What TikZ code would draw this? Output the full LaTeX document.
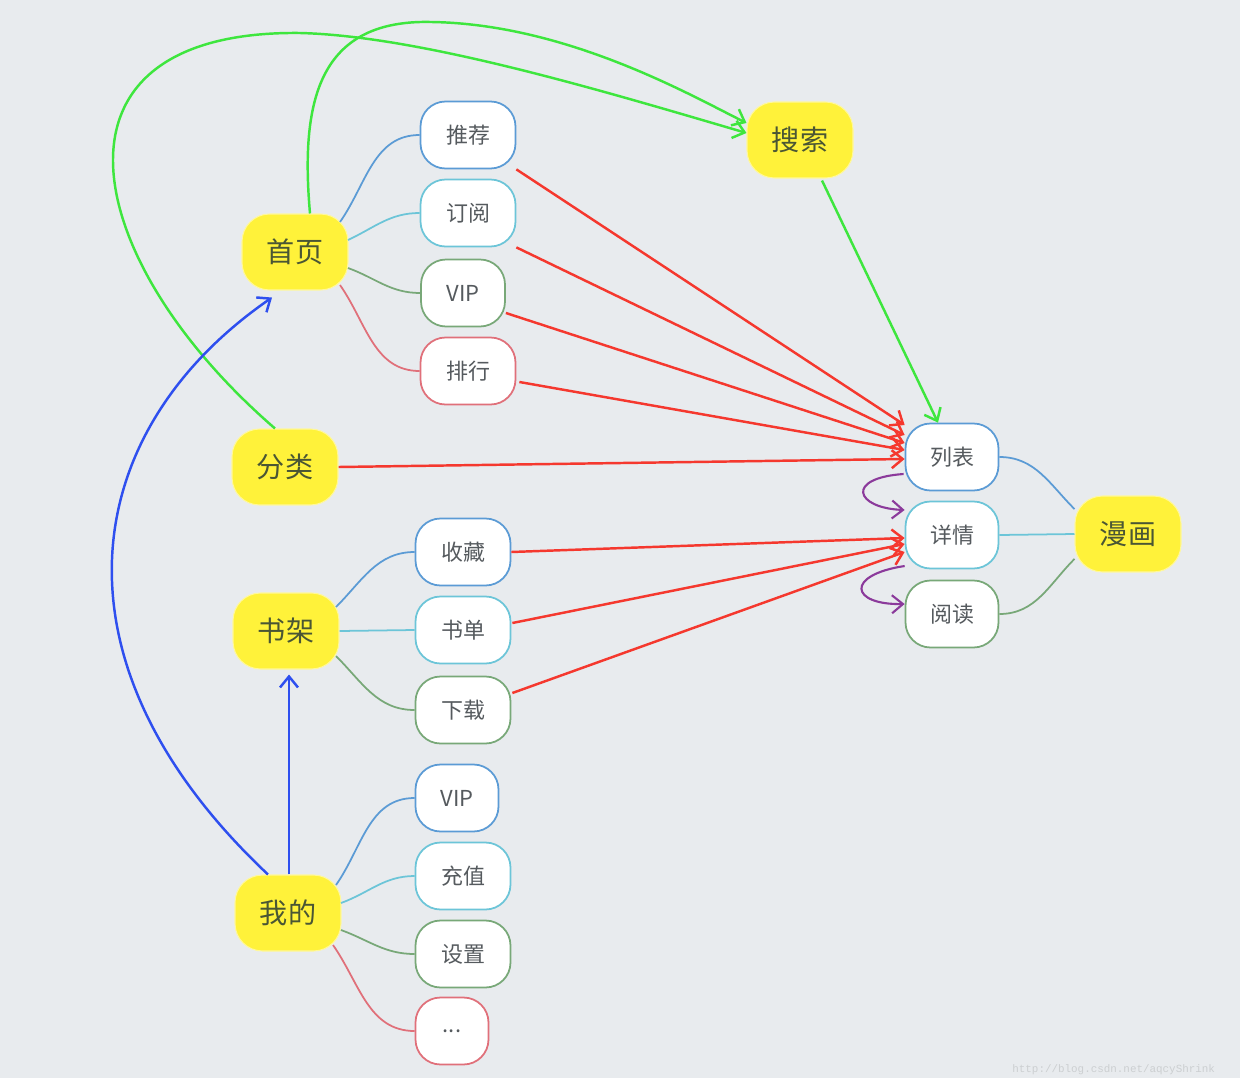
\documentclass[tikz,border=0pt]{standalone}
\usepackage{fontspec}
\setmainfont{Noto Sans CJK SC}
\newfontfamily\markfont{Liberation Mono}
\usetikzlibrary{positioning, calc}
\usetikzlibrary{arrows.meta}

\definecolor{bg}{HTML}{E8EBEE}
\definecolor{topicyellow}{HTML}{FFF23A}
\definecolor{topictext}{HTML}{4A5634}
\definecolor{itemtext}{HTML}{555A5E}
\definecolor{lblue}{HTML}{5B9BD5}
\definecolor{lcyan}{HTML}{6CC5D8}
\definecolor{lgreen}{HTML}{78A878}
\definecolor{lred}{HTML}{E0707A}
\definecolor{arrred}{HTML}{F5382E}
\definecolor{arrgreen}{HTML}{3EE63E}
\definecolor{arrblue}{HTML}{2E4FEF}
\definecolor{arrpurple}{HTML}{8B3A9B}

\begin{document}
\begin{tikzpicture}[x=0.02cm, y=-0.02cm,
    topic/.style={rectangle, rounded corners=0.55cm,
                  fill=topicyellow, draw=topicyellow!50!white, line width=0.6pt,
                  text=topictext, minimum width=2.12cm, minimum height=1.52cm,
                  font=\fontsize{16}{16}\selectfont},
    item/.style={rectangle, rounded corners=0.5cm,
                 fill=white, line width=1pt, text=itemtext,
                 minimum width=1.9cm, minimum height=1.34cm,
                 font=\fontsize{12.5}{13}\selectfont},
    branch/.style={line width=1pt},
    jump/.style={line width=1.4pt, -{Straight Barb[length=2.2mm, width=3.6mm]}}]

    \fill[bg] (0,0) rectangle (1240,1078);
    \useasboundingbox (0,0) rectangle (1240,1078);

    % main topics
    \node[topic] (home)   at (295,252)  {首页};
    \node[topic] (cat)    at (285,467)  {分类};
    \node[topic] (shelf)  at (286,631)  {书架};
    \node[topic] (me)     at (288,913)  {我的};
    \node[topic] (search) at (800,140)  {搜索};
    \node[topic] (manga)  at (1128,534) {漫画};

    % home items
    \node[item, draw=lblue]  (rec)  at (468,135) {推荐};
    \node[item, draw=lcyan]  (sub)  at (468,213) {订阅};
    \node[item, draw=lgreen, minimum width=1.68cm] (vip) at (463,293) {VIP};
    \node[item, draw=lred]   (rank) at (468,371) {排行};

    % shelf items
    \node[item, draw=lblue]  (fav)   at (463,552) {收藏};
    \node[item, draw=lcyan]  (blist) at (463,630) {书单};
    \node[item, draw=lgreen] (down)  at (463,710) {下载};

    % my items
    \node[item, draw=lblue, minimum width=1.66cm] (myvip) at (457,798) {VIP};
    \node[item, draw=lcyan]  (pay)  at (463,876) {充值};
    \node[item, draw=lgreen] (set)  at (463,954) {设置};
    \node[item, draw=lred, minimum width=1.46cm] (more) at (452,1031) {...};

    % manga items
    \node[item, draw=lblue, minimum width=1.86cm]  (list) at (952,457) {列表};
    \node[item, draw=lcyan, minimum width=1.86cm]  (info) at (952,535) {详情};
    \node[item, draw=lgreen, minimum width=1.86cm] (read) at (952,614) {阅读};

    % branches
    \draw[branch, lblue]  ($(home)+(45,-30)$) to[out=55, in=180]  (rec.west);
    \draw[branch, lcyan]  ($(home)+(53,-12)$) to[out=25, in=180]  (sub.west);
    \draw[branch, lgreen] ($(home)+(53,16)$)  to[out=-20, in=180] (vip.west);
    \draw[branch, lred]   ($(home)+(45,33)$)  to[out=-55, in=180] (rank.west);

    \draw[branch, lblue]  ($(shelf)+(50,-24)$) to[out=45, in=180]  (fav.west);
    \draw[branch, lcyan]  (shelf.east) -- (blist.west);
    \draw[branch, lgreen] ($(shelf)+(50,25)$)  to[out=-45, in=180] (down.west);

    \draw[branch, lblue]  ($(me)+(48,-28)$) to[out=55, in=180]  (myvip.west);
    \draw[branch, lcyan]  ($(me)+(53,-10)$) to[out=20, in=180]  (pay.west);
    \draw[branch, lgreen] ($(me)+(53,17)$)  to[out=-20, in=180] (set.west);
    \draw[branch, lred]   ($(me)+(45,32)$)  to[out=-55, in=180] (more.west);

    \draw[branch, lblue]  (list.east) to[out=0, in=135]  (manga.155);
    \draw[branch, lcyan]  (info.east) -- (manga.west);
    \draw[branch, lgreen] (read.east) to[out=0, in=-135] (manga.205);

    % jumps to list / info
    \draw[jump, arrred] (rec.south east)        -- ($(list.west)+(0,-32)$);
    \draw[jump, arrred] (sub.south east)        -- ($(list.west)+(0,-22)$);
    \draw[jump, arrred] (vip.-25)               -- ($(list.west)+(0,-14)$);
    \draw[jump, arrred] ($(rank.east)+(3,11)$)  -- ($(list.west)+(0,-7)$);
    \draw[jump, arrred] (cat.east)              -- ($(list.west)+(0,2)$);
    \draw[jump, arrred] (fav.east)              -- ($(info.west)+(0,3)$);
    \draw[jump, arrred] ($(blist.east)+(1,-7)$) -- ($(info.west)+(0,9)$);
    \draw[jump, arrred] ($(down.east)+(1,-17)$) -- ($(info.west)+(0,17)$);

    % search
    \draw[jump, arrgreen] ($(search.south)+(22,2)$) -- ($(list.north)+(-14,0)$);
    \draw[jump, arrgreen] ($(cat.north)+(-10,0)$)
        .. controls (80,260) and (30,30) .. (300,33)
        .. controls (420,36) and (600,90) .. ($(search.west)+(0,-7)$);
    \draw[jump, arrgreen] ($(home.north)+(15,0)$)
        .. controls (300,100) and (320,25) .. (420,22)
        .. controls (560,20) and (690,95) .. ($(search.west)+(0,-17)$);

    % my page
    \draw[jump, arrblue] ($(me.north)+(1,0)$) -- ($(shelf.south)+(3,5)$);
    \draw[jump, arrblue] ($(me.north)+(-20,0)$)
        .. controls (40,660) and (80,430) .. ($(home.south)+(-23,7)$);

    % list -> info -> read
    \draw[jump, arrpurple, line width=1.2pt] ($(list.west)+(-1,17)$)
        .. controls (845,478) and (855,508) .. ($(info.west)+(0,-25)$);
    \draw[jump, arrpurple, line width=1.2pt] ($(info.west)+(0,31)$)
        .. controls (845,575) and (850,605) .. ($(read.west)+(0,-10)$);

    \node[anchor=west, inner sep=0pt, text=bg!88!black,
          font=\markfont\fontsize{6.2}{6.2}\selectfont]
        (mark) at (1012,1070) {http://blog.csdn.net/aqcyShrink};
\end{tikzpicture}
\end{document}
